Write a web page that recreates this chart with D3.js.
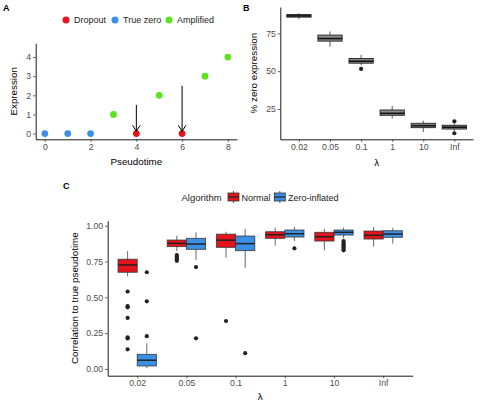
<!DOCTYPE html>
<html>
<head>
<meta charset="utf-8">
<script src="https://cdn.jsdelivr.net/npm/d3@7"></script>
<style>
  body { margin: 0; background: #fff; }
  svg { display: block; font-family: "Liberation Sans", Arial, Helvetica, sans-serif; }
</style>
</head>
<body>
<svg id="chart" width="480" height="408"></svg>
<script>
// ---------- Panel A data ----------
const pseudotime = [0, 1, 2, 3, 4, 5, 6, 7, 8];
const expression = [0, 0, 0, 1, 0, 2, 0, 3, 4];
const pointType = ["True zero", "True zero", "True zero", "Amplified", "Dropout", "Amplified", "Dropout", "Amplified", "Amplified"];
const typeNames = ["Dropout", "True zero", "Amplified"];
const typeColors = ["#E3141B", "#3B8FE5", "#5CE21F"];
const arrowX = [4, 6];
const arrowTop = [1.5, 2.5];
const arrowEnd = [0.12, 0.12];
const aXTicks = [0, 2, 4, 6, 8];
const aYTicks = [0, 1, 2, 3, 4];

// ---------- Panel B data (% zero expression) ----------
const lambdas = ["0.02", "0.05", "0.1", "1", "10", "Inf"];
const zeroLo  = [84.5, 66.1, 54.0, 18.6,  9.7, 10.4];
const zeroQ1  = [85.8, 69.9, 55.3, 20.8, 12.6, 11.7];
const zeroMed = [86.6, 71.6, 56.6, 22.1, 13.9, 12.9];
const zeroQ3  = [87.5, 73.9, 58.4, 24.3, 15.5, 14.2];
const zeroHi  = [88.4, 76.3, 60.8, 27.0, 17.2, 15.4];
const zeroOut = [[], [], [51.5], [], [], [16.8, 8.9]];
const bYTicks = [25, 50, 75];

// ---------- Panel C data (correlation to true pseudotime) ----------
const algorithms = ["Normal", "Zero-inflated"];
const algColors = ["#E3141B", "#3B8FE5"];
const normLo  = [0.647, 0.822, 0.777, 0.860, 0.828, 0.854];
const normQ1  = [0.675, 0.854, 0.849, 0.912, 0.893, 0.907];
const normMed = [0.726, 0.877, 0.899, 0.937, 0.923, 0.933];
const normQ3  = [0.766, 0.900, 0.941, 0.958, 0.954, 0.963];
const normHi  = [0.823, 0.930, 0.958, 0.986, 0.977, 0.991];
const normOut = [[0.540, 0.438, 0.430, 0.356, 0.221, 0.213, 0.137], [0.795, 0.785, 0.775, 0.765, 0.755], [0.335], [], [], []];
const ziLo  = [0.005, 0.761, 0.707, 0.893, 0.912, 0.874];
const ziQ1  = [0.021, 0.835, 0.826, 0.921, 0.935, 0.919];
const ziMed = [0.061, 0.872, 0.875, 0.944, 0.954, 0.942];
const ziQ3  = [0.102, 0.912, 0.928, 0.970, 0.970, 0.965];
const ziHi  = [0.179, 0.954, 0.977, 0.991, 0.986, 0.986];
const ziOut = [[0.675, 0.472, 0.229], [0.711, 0.214], [0.110], [0.842], [0.893, 0.882, 0.871, 0.860, 0.849, 0.838, 0.828], []];
const cYTicks = [0, 0.25, 0.5, 0.75, 1];

const svg = d3.select("#chart");
const TICK = 8.7, TITLE = 9.8;
const tickCol = "#4d4d4d";

function axisStyle(g) {
  g.selectAll(".domain").attr("stroke", "#000").attr("stroke-width", 0.9);
  g.selectAll(".tick line").attr("stroke", "#333").attr("stroke-width", 0.8);
  g.selectAll(".tick text").attr("fill", tickCol).style("font-size", TICK + "px")
    .style("font-family", "'Liberation Sans', Arial, sans-serif");
}

// ================= Panel A =================
{
  const x = d3.scaleLinear().domain([-0.4, 8.4]).range([35.7, 237]);
  const y = d3.scaleLinear().domain([-0.3, 4.72]).range([139.3, 43.3]);
  const g = svg.append("g");
  g.append("g").attr("transform", `translate(0,${y.range()[0]})`)
    .call(d3.axisBottom(x).tickValues(aXTicks).tickFormat(d3.format("d")).tickSize(2.5).tickPadding(2).tickSizeOuter(0)).call(axisStyle);
  g.append("g").attr("transform", `translate(${x.range()[0]},0)`)
    .call(d3.axisLeft(y).tickValues(aYTicks).tickFormat(d3.format("d")).tickSize(2.5).tickPadding(2).tickSizeOuter(0)).call(axisStyle);

  const col = d3.scaleOrdinal().domain(typeNames).range(typeColors);
  g.selectAll("circle.pt").data(pseudotime).join("circle")
    .attr("class", "pt")
    .attr("cx", (d) => x(d))
    .attr("cy", (d, i) => y(expression[i]))
    .attr("r", 3.4)
    .attr("fill", (d, i) => col(pointType[i]));

  // arrows
  arrowX.forEach((ax, i) => {
    const px = x(ax), y0 = y(arrowTop[i]), y1 = y(arrowEnd[i]);
    g.append("line").attr("x1", px).attr("x2", px).attr("y1", y0).attr("y2", y1)
      .attr("stroke", "#000").attr("stroke-width", 1);
    g.append("path").attr("d", `M${px - 3.8},${y1 - 6} L${px},${y1} L${px + 3.8},${y1 - 6}`)
      .attr("fill", "none").attr("stroke", "#000").attr("stroke-width", 1);
  });

  g.append("text").attr("x", (35.7 + 237) / 2).attr("y", 165).attr("text-anchor", "middle")
    .style("font-size", TITLE + "px").text("Pseudotime");
  g.append("text").attr("transform", `translate(17,${(43.3 + 139.3) / 2}) rotate(-90)`)
    .attr("text-anchor", "middle").style("font-size", TITLE + "px").text("Expression");

  // legend
  const legX = [66, 115, 169];
  typeNames.forEach((n, i) => {
    g.append("circle").attr("cx", legX[i]).attr("cy", 20).attr("r", 3.5).attr("fill", typeColors[i]);
    g.append("text").attr("x", legX[i] + 8).attr("y", 23.2).style("font-size", "9px").attr("fill", "#222").text(n);
  });
  g.append("text").attr("x", 3).attr("y", 11).style("font-size", "9px").style("font-weight", "bold").text("A");
}

// ================= Panel B =================
{
  const x = d3.scalePoint().domain(lambdas).range([280.3, 473]).padding(0.6);
  const y = d3.scaleLinear().domain([4.9, 92.5]).range([139.3, 7]);
  const g = svg.append("g");
  g.append("g").attr("transform", `translate(0,${y.range()[0]})`)
    .call(d3.axisBottom(x).tickSize(2.5).tickPadding(2).tickSizeOuter(0)).call(axisStyle);
  g.append("g").attr("transform", `translate(${x.range()[0]},0)`)
    .call(d3.axisLeft(y).tickValues(bYTicks).tickSize(2.5).tickPadding(2).tickSizeOuter(0)).call(axisStyle);

  const bw = x.step() * 0.78;
  lambdas.forEach((l, i) => {
    const cx = x(l);
    g.append("line").attr("x1", cx).attr("x2", cx).attr("y1", y(zeroHi[i])).attr("y2", y(zeroLo[i]))
      .attr("stroke", "#333").attr("stroke-width", 0.8);
    g.append("rect").attr("x", cx - bw / 2).attr("width", bw)
      .attr("y", y(zeroQ3[i])).attr("height", y(zeroQ1[i]) - y(zeroQ3[i]))
      .attr("fill", "#8c8c8c").attr("stroke", "#222").attr("stroke-width", 0.9);
    g.append("line").attr("x1", cx - bw / 2).attr("x2", cx + bw / 2).attr("y1", y(zeroMed[i])).attr("y2", y(zeroMed[i]))
      .attr("stroke", "#111").attr("stroke-width", 1.6);
    zeroOut[i].forEach(v => {
      g.append("circle").attr("cx", cx).attr("cy", y(v)).attr("r", 2.1).attr("fill", "#222");
    });
  });

  g.append("text").attr("x", (280.3 + 473) / 2).attr("y", 166).attr("text-anchor", "middle")
    .style("font-size", TITLE + "px").text("λ");
  g.append("text").attr("transform", `translate(257,${(7 + 139.3) / 2}) rotate(-90)`)
    .attr("text-anchor", "middle").style("font-size", TITLE + "px").text("% zero expression");
  g.append("text").attr("x", 243).attr("y", 11).style("font-size", "9px").style("font-weight", "bold").text("B");
}

// ================= Panel C =================
{
  const x = d3.scalePoint().domain(lambdas).range([107.7, 412.7]).padding(0.6);
  const y = d3.scaleLinear().domain([-0.047, 1.035]).range([375.7, 220.7]);
  const g = svg.append("g");
  g.append("g").attr("transform", `translate(0,${y.range()[0]})`)
    .call(d3.axisBottom(x).tickSize(2.5).tickPadding(2).tickSizeOuter(0)).call(axisStyle);
  g.append("g").attr("transform", `translate(${x.range()[0]},0)`)
    .call(d3.axisLeft(y).tickValues(cYTicks).tickFormat(d3.format(".2f")).tickSize(2.5).tickPadding(2).tickSizeOuter(0)).call(axisStyle);

  const total = x.step() * 0.78;
  const bw = total / 2;
  const sub = d3.scaleBand().domain(algorithms).range([-total / 2, total / 2]);
  const series = [
    { lo: normLo, q1: normQ1, med: normMed, q3: normQ3, hi: normHi, out: normOut },
    { lo: ziLo, q1: ziQ1, med: ziMed, q3: ziQ3, hi: ziHi, out: ziOut }
  ];
  series.forEach((s, k) => {
    lambdas.forEach((l, i) => {
      const cx = x(l) + sub(algorithms[k]) + sub.bandwidth() / 2;
      g.append("line").attr("x1", cx).attr("x2", cx).attr("y1", y(s.hi[i])).attr("y2", y(s.lo[i]))
        .attr("stroke", "#444").attr("stroke-width", 0.8);
      g.append("rect").attr("x", cx - bw / 2).attr("width", bw)
        .attr("y", y(s.q3[i])).attr("height", y(s.q1[i]) - y(s.q3[i]))
        .attr("fill", algColors[k]).attr("stroke", "#333").attr("stroke-opacity", 0.85).attr("stroke-width", 0.9);
      g.append("line").attr("x1", cx - bw / 2).attr("x2", cx + bw / 2).attr("y1", y(s.med[i])).attr("y2", y(s.med[i]))
        .attr("stroke", "#222").attr("stroke-width", 1.5);
      s.out[i].forEach(v => {
        g.append("circle").attr("cx", cx).attr("cy", y(v)).attr("r", 2.1).attr("fill", "#222");
      });
    });
  });

  g.append("text").attr("x", (107.7 + 412.7) / 2).attr("y", 400).attr("text-anchor", "middle")
    .style("font-size", TITLE + "px").text("λ");
  g.append("text").attr("transform", `translate(78,${(220.7 + 375.7) / 2}) rotate(-90)`)
    .attr("text-anchor", "middle").style("font-size", TITLE + "px").text("Correlation to true pseudotime");
  g.append("text").attr("x", 63).attr("y", 189).style("font-size", "9px").style("font-weight", "bold").text("C");

  // legend
  g.append("text").attr("x", 181.5).attr("y", 200.5).style("font-size", "9.5px").attr("fill", "#222").text("Algorithm");
  const keyX = [228, 274.3];
  const labX = [241.5, 288];
  algorithms.forEach((a, k) => {
    const kx = keyX[k];
    g.append("line").attr("x1", kx + 5.5).attr("x2", kx + 5.5).attr("y1", 191).attr("y2", 203)
      .attr("stroke", "#333").attr("stroke-width", 0.8);
    g.append("rect").attr("x", kx).attr("y", 193).attr("width", 11).attr("height", 8)
      .attr("fill", algColors[k]).attr("stroke", "#333").attr("stroke-width", 0.8);
    g.append("line").attr("x1", kx).attr("x2", kx + 11).attr("y1", 197).attr("y2", 197)
      .attr("stroke", "#222").attr("stroke-width", 1.2);
    g.append("text").attr("x", labX[k]).attr("y", 200.5).style("font-size", "9px").attr("fill", "#222").text(a);
  });
}
</script>
</body>
</html>
